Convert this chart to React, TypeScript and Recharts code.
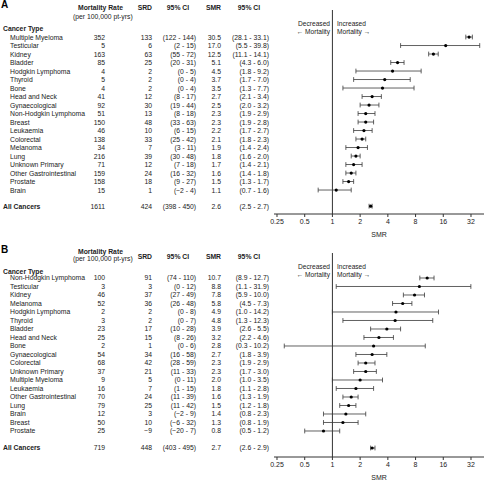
import React from 'react';
import { ScatterChart, Scatter, XAxis, YAxis, ErrorBar, ReferenceLine } from 'recharts';

// Panel A
const aNames = ['Multiple Myeloma', 'Testicular', 'Kidney', 'Bladder', 'Hodgkin Lymphoma', 'Thyroid', 'Bone', 'Head and Neck', 'Gynaecological', 'Non-Hodgkin Lymphoma', 'Breast', 'Leukaemia', 'Colorectal', 'Melanoma', 'Lung', 'Unknown Primary', 'Other Gastrointestinal', 'Prostate', 'Brain', 'All Cancers'];
const aRate = [352, 5, 163, 85, 4, 5, 4, 41, 92, 51, 150, 46, 138, 34, 216, 71, 159, 158, 15, 1611];
const aSrd = [133, 6, 63, 25, 2, 2, 2, 12, 30, 13, 48, 10, 33, 7, 39, 12, 24, 18, 1, 424];
const aSrdLo = [122, 2, 55, 20, 0, 0, 0, 8, 19, 8, 33, 6, 25, 3, 30, 7, 16, 9, -2, 398];
const aSrdHi = [144, 15, 72, 31, 5, 4, 4, 17, 44, 18, 63, 15, 42, 11, 48, 18, 32, 27, 4, 450];
const aSmr = [30.5, 17.0, 12.5, 5.1, 4.5, 3.7, 3.5, 2.7, 2.5, 2.3, 2.3, 2.2, 2.1, 1.9, 1.8, 1.7, 1.6, 1.5, 1.1, 2.6];
const aSmrLo = [28.1, 5.5, 11.1, 4.3, 1.8, 1.7, 1.3, 2.1, 2.0, 1.9, 1.9, 1.7, 1.8, 1.4, 1.6, 1.4, 1.4, 1.3, 0.7, 2.5];
const aSmrHi = [33.1, 39.8, 14.1, 6.0, 9.2, 7.0, 7.7, 3.4, 3.2, 2.9, 2.8, 2.7, 2.3, 2.4, 2.0, 2.1, 1.8, 1.7, 1.6, 2.7];

// Panel B
const bNames = ['Non-Hodgkin Lymphoma', 'Testicular', 'Kidney', 'Melanoma', 'Hodgkin Lymphoma', 'Thyroid', 'Bladder', 'Head and Neck', 'Bone', 'Gynaecological', 'Colorectal', 'Unknown Primary', 'Multiple Myeloma', 'Leukaemia', 'Other Gastrointestinal', 'Lung', 'Brain', 'Breast', 'Prostate', 'All Cancers'];
const bRate = [100, 3, 46, 52, 2, 3, 23, 25, 2, 54, 68, 37, 9, 16, 70, 79, 12, 50, 25, 719];
const bSrd = [91, 3, 37, 36, 2, 2, 17, 15, 1, 34, 42, 21, 5, 7, 24, 25, 3, 10, -9, 448];
const bSrdLo = [74, 0, 27, 26, 0, 0, 10, 8, 0, 16, 28, 11, 0, 1, 11, 11, -2, -6, -20, 403];
const bSrdHi = [110, 12, 49, 48, 8, 7, 28, 26, 6, 58, 59, 33, 11, 15, 39, 42, 9, 32, 7, 495];
const bSmr = [10.7, 8.8, 7.8, 5.8, 4.9, 4.8, 3.9, 3.2, 2.8, 2.7, 2.3, 2.3, 2.0, 1.8, 1.6, 1.5, 1.4, 1.3, 0.8, 2.7];
const bSmrLo = [8.9, 1.1, 5.9, 4.5, 1.0, 1.3, 2.6, 2.2, 0.3, 1.8, 1.9, 1.7, 1.0, 1.1, 1.3, 1.2, 0.8, 0.8, 0.5, 2.6];
const bSmrHi = [12.7, 31.9, 10.0, 7.3, 14.2, 12.3, 5.5, 4.6, 10.2, 3.9, 2.9, 3.0, 3.5, 2.8, 1.9, 1.8, 2.3, 1.9, 1.2, 2.9];

const smrTicks = [0.25, 0.5, 1, 2, 4, 8, 16, 32];

const FONT = '"Liberation Sans", Arial, Helvetica, sans-serif';
const INK = '#222';
const FS = 6.8;

const num = (v: number) => (v < 0 ? `\u2212${-v}` : String(v));

function buildRows(names: string[], rate: number[], srd: number[], sLo: number[], sHi: number[], smr: number[], lo: number[], hi: number[], totalPos: number) {
  return names.map((name, i) => ({
    name,
    pos: i === names.length - 1 ? totalPos : i,
    rate: String(rate[i]),
    srd: num(srd[i]),
    srdCi: `(${num(sLo[i])} - ${num(sHi[i])})`,
    smr: smr[i],
    smrTxt: smr[i].toFixed(1),
    smrCi: `(${lo[i].toFixed(1)} - ${hi[i].toFixed(1)})`,
    err: [smr[i] - lo[i], hi[i] - smr[i]],
    total: i === names.length - 1,
  }));
}

const rowsA = buildRows(aNames, aRate, aSrd, aSrdLo, aSrdHi, aSmr, aSmrLo, aSmrHi, 19.9);
const rowsB = buildRows(bNames, bRate, bSrd, bSrdLo, bSrdHi, bSmr, bSmrLo, bSmrHi, 20);

// column anchors (right edges except name)
const COL = { name: 10, rate: 105, srd: 152, srdCi: 196, smr: 221, smrCi: 269 };

function RowTick(props: any) {
  const { y, payload, rows } = props;
  const r = rows.find((d: any) => Math.abs(d.pos - payload.value) < 0.01);
  if (!r) return null;
  const base = { fontSize: FS, fill: INK, dominantBaseline: 'central' as const };
  return (
    <g>
      <text x={r.total ? 3 : COL.name} y={y} {...base} fontWeight={r.total ? 'bold' : 'normal'}>{r.name}</text>
      <text x={COL.rate} y={y} {...base} textAnchor="end">{r.rate}</text>
      <text x={COL.srd} y={y} {...base} textAnchor="end">{r.srd}</text>
      <text x={COL.srdCi} y={y} {...base} textAnchor="end">{r.srdCi}</text>
      <text x={COL.smr} y={y} {...base} textAnchor="end">{r.smrTxt}</text>
      <text x={COL.smrCi} y={y} {...base} textAnchor="end">{r.smrCi}</text>
    </g>
  );
}

const Dot = (p: any) => <circle cx={p.cx} cy={p.cy} r={1.6} fill="#000" />;

function Panel({ letter, rows, domain, isB }: { letter: string; rows: any[]; domain: [number, number]; isB: boolean }) {
  const hy = isB ? 16 : 9.5;
  return (
    <div style={{ position: 'relative', width: 484, height: 240 }}>
      <ScatterChart width={484} height={240} margin={{ top: 10, right: 0, bottom: 0, left: 0 }}>
        <XAxis
          type="number"
          dataKey="smr"
          scale="log"
          domain={[0.232, 44.3]}
          allowDataOverflow
          ticks={smrTicks}
          interval={0}
          tickFormatter={(v: number) => String(v)}
          height={26}
          tickSize={3}
          stroke="#333"
          tick={{ fontSize: 7, fill: INK }}
          label={{ value: 'SMR', position: 'insideBottom', offset: 3, fontSize: 7, fill: INK }}
        />
        <YAxis
          type="number"
          dataKey="pos"
          domain={domain}
          allowDataOverflow
          reversed
          ticks={rows.map((r) => r.pos)}
          interval={0}
          width={274}
          axisLine={false}
          tickLine={false}
          tick={(p: any) => <RowTick {...p} rows={rows} />}
        />
        <ReferenceLine x={1} stroke="#333" strokeWidth={1} />
        <Scatter data={rows} shape={Dot} isAnimationActive={false}>
          <ErrorBar dataKey="err" direction="x" width={2.4} stroke="#3a3a3a" strokeWidth={0.8} isAnimationActive={false} />
        </Scatter>
      </ScatterChart>
      <svg width={484} height={40} style={{ position: 'absolute', left: 0, top: 0, pointerEvents: 'none' }}>
        <g fontFamily={FONT} fill={INK}>
          <text x={1} y={isB ? 10 : 8} fontSize={10} fontWeight="bold" fill="#000">{letter}</text>
          <text x={78} y={isB ? 11 : 9.5} fontSize={FS} fontWeight="bold">Mortality Rate</text>
          <text x={73} y={isB ? 18 : 18.5} fontSize={FS}>(per 100,000 pt-yrs)</text>
          <text x={COL.srd} y={hy} fontSize={FS} fontWeight="bold" textAnchor="end">SRD</text>
          <text x={178} y={hy} fontSize={FS} fontWeight="bold" textAnchor="middle">95% CI</text>
          <text x={COL.smr} y={hy} fontSize={FS} fontWeight="bold" textAnchor="end">SMR</text>
          <text x={249} y={hy} fontSize={FS} fontWeight="bold" textAnchor="middle">95% CI</text>
          <text x={3} y={30.5} fontSize={FS} fontWeight="bold">Cancer Type</text>
          <text x={330} y={26} fontSize={6.6} textAnchor="end">Decreased</text>
          <text x={330} y={34.3} fontSize={6.6} textAnchor="end">{'\u2190 Mortality'}</text>
          <text x={337} y={26} fontSize={6.6}>Increased</text>
          <text x={337} y={34.3} fontSize={6.6}>{'Mortality \u2192'}</text>
        </g>
      </svg>
    </div>
  );
}

export default function App() {
  return (
    <div style={{ position: 'absolute', left: 0, top: 0, width: 484, height: 481, background: '#fff', fontFamily: FONT, overflow: 'hidden' }}>
      <Panel letter="A" rows={rowsA} domain={[-3.18, 20.82]} isB={false} />
      <div style={{ position: 'absolute', left: 0, top: 243 }}>
        <Panel letter="B" rows={rowsB} domain={[-2.94, 21.06]} isB={true} />
      </div>
    </div>
  );
}
